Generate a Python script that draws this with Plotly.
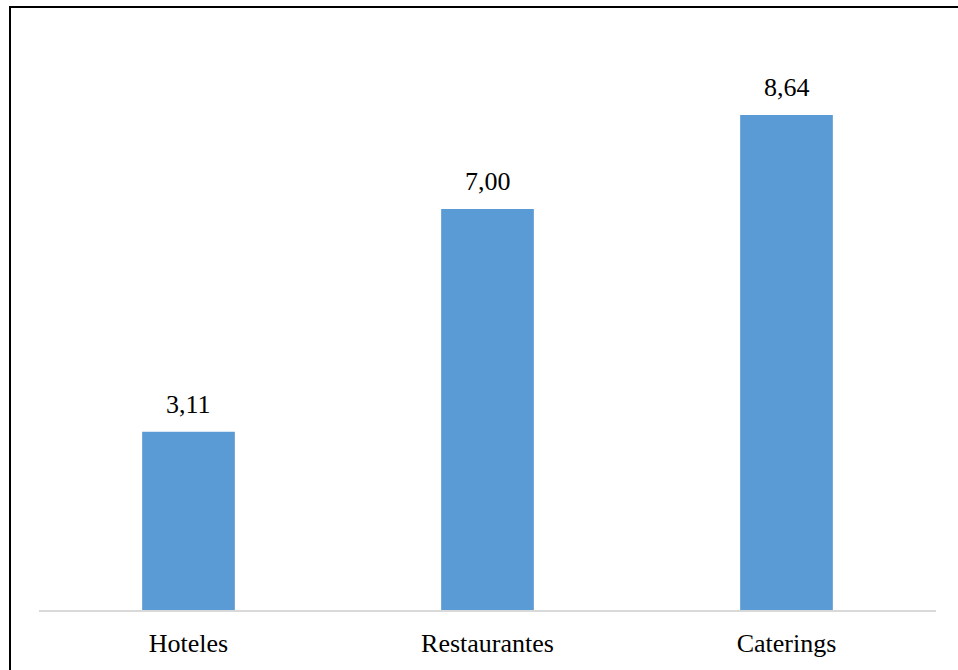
import plotly.graph_objects as go

# Data
categories = ["Hoteles", "Restaurantes", "Caterings"]
values = [3.11, 7.00, 8.64]
value_labels = ["3,11", "7,00", "8,64"]

W, H = 958, 670
M_L, M_R, M_T, M_B = 39, 22, 37, 60
plot_w = W - M_L - M_R
plot_h = H - M_T - M_B

def px_to_paper_x(px):
    return (px - M_L) / plot_w

def px_to_paper_y(py):
    return (H - M_B - py) / plot_h

FONT = "Liberation Serif, DejaVu Serif, serif"
FONT_SIZE = 26

fig = go.Figure()
fig.add_trace(go.Bar(
    x=categories,
    y=values,
    width=0.31,
    marker=dict(color="#5B9BD5", line=dict(width=0)),
    hoverinfo="skip",
))

# Value labels above each bar
for cat, val, lab in zip(categories, values, value_labels):
    fig.add_annotation(
        x=cat, y=val, text=lab, showarrow=False,
        xanchor="center", yanchor="bottom", yshift=11,
        font=dict(family=FONT, size=FONT_SIZE, color="#000000"),
    )

# Chart frame: left and top edges
fig.add_shape(type="line", xref="paper", yref="paper",
              x0=px_to_paper_x(10), x1=px_to_paper_x(10),
              y0=px_to_paper_y(7), y1=px_to_paper_y(H + 5),
              line=dict(color="#000000", width=2))
fig.add_shape(type="line", xref="paper", yref="paper",
              x0=px_to_paper_x(9), x1=px_to_paper_x(W + 5),
              y0=px_to_paper_y(7), y1=px_to_paper_y(7),
              line=dict(color="#000000", width=2))

fig.update_layout(
    width=W, height=H,
    margin=dict(l=M_L, r=M_R, t=M_T, b=M_B),
    paper_bgcolor="#FFFFFF",
    plot_bgcolor="#FFFFFF",
    showlegend=False,
    bargap=0.69,
    font=dict(family=FONT, size=FONT_SIZE, color="#000000"),
    xaxis=dict(
        showline=True, linecolor="#D9D9D9", linewidth=2,
        showgrid=False, zeroline=False, automargin=False,
        ticks="outside", ticklen=9, tickcolor="rgba(0,0,0,0)",
        tickfont=dict(family=FONT, size=FONT_SIZE, color="#000000"),
    ),
    yaxis=dict(
        range=[0, 10], visible=False, showgrid=False, zeroline=False,
        automargin=False,
    ),
)

fig.write_html("out.html")
